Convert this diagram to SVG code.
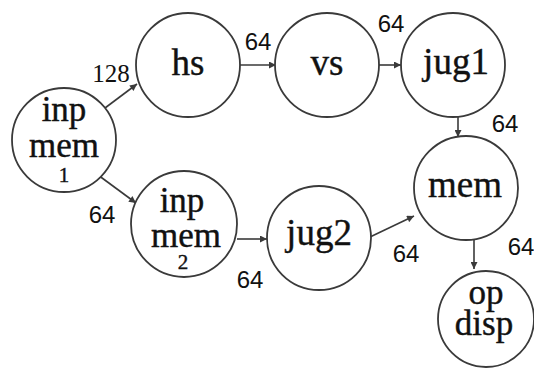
<svg xmlns="http://www.w3.org/2000/svg" width="534" height="369" viewBox="0 0 534 369">
  <style>
    .node circle { fill: #ffffff; stroke: #3a3a3a; stroke-width: 1.8; }
    .node text { font-family: "Liberation Serif", "Times New Roman", serif; font-size: 37px; fill: #111111; stroke: #111111; stroke-width: 0.4; text-anchor: middle; }
    .node text.stack { font-size: 35px; }
    .node text.idx { font-size: 21px; }
    .edge { stroke: #3a3a3a; stroke-width: 1.6; fill: none; marker-end: url(#arrow); }
    .lbl { font-family: "Liberation Sans", Arial, sans-serif; font-size: 24px; fill: #111111; text-anchor: middle; }
    .lbl.serif { font-family: "Liberation Serif", "Times New Roman", serif; font-size: 25px; }
  </style>
  <defs>
    <marker id="arrow" viewBox="0 0 10 10" refX="10" refY="5" markerWidth="9" markerHeight="7" markerUnits="userSpaceOnUse" orient="auto">
      <path d="M0,0 L10,5 L0,10 z" fill="#3a3a3a"/>
    </marker>
  </defs>
  <rect width="534" height="369" fill="#ffffff"/>

  <!-- connectors -->
  <g id="edges">
    <line class="edge" x1="105" y1="108" x2="137" y2="84"/>
    <line class="edge" x1="240" y1="65" x2="276" y2="65"/>
    <line class="edge" x1="379" y1="65" x2="401" y2="65"/>
    <line class="edge" x1="458" y1="117" x2="458" y2="137"/>
    <line class="edge" x1="98" y1="175" x2="136" y2="203"/>
    <line class="edge" x1="237" y1="239" x2="267" y2="239"/>
    <line class="edge" x1="370" y1="237" x2="414" y2="216"/>
    <line class="edge" x1="474" y1="240" x2="474" y2="269"/>
  </g>

  <!-- edge weights -->
  <g id="labels">
    <text class="lbl serif" x="111" y="82">128</text>
    <text class="lbl" x="258" y="50">64</text>
    <text class="lbl" x="391" y="32">64</text>
    <text class="lbl" x="505" y="132">64</text>
    <text class="lbl" x="102" y="223">64</text>
    <text class="lbl" x="250" y="288">64</text>
    <text class="lbl" x="406" y="262">64</text>
    <text class="lbl" x="521" y="255">64</text>
  </g>

  <!-- nodes -->
  <g id="inpmem1" class="node">
    <circle cx="64" cy="140" r="52"/>
    <text class="stack" x="64" y="121">inp</text>
    <text class="stack" x="64" y="157">mem</text>
    <text class="idx" x="64" y="182">1</text>
  </g>
  <g id="hs" class="node">
    <circle cx="188" cy="65" r="52"/>
    <text x="188" y="75">hs</text>
  </g>
  <g id="vs" class="node">
    <circle cx="327" cy="65" r="52"/>
    <text x="327" y="75">vs</text>
  </g>
  <g id="jug1" class="node">
    <circle cx="453" cy="65" r="52"/>
    <text x="456" y="74">jug1</text>
  </g>
  <g id="inpmem2" class="node">
    <circle cx="184" cy="224" r="53"/>
    <text class="stack" x="182" y="212">inp</text>
    <text class="stack" x="186" y="247">mem</text>
    <text class="idx" x="183" y="269">2</text>
  </g>
  <g id="jug2" class="node">
    <circle cx="319" cy="238" r="52"/>
    <text x="319" y="245">jug2</text>
  </g>
  <g id="mem" class="node">
    <circle cx="466" cy="188" r="52"/>
    <text x="465" y="197">mem</text>
  </g>
  <g id="opdisp" class="node">
    <circle cx="486" cy="319" r="48"/>
    <text class="stack" x="486" y="304">op</text>
    <text class="stack" x="484" y="335">disp</text>
  </g>
</svg>
